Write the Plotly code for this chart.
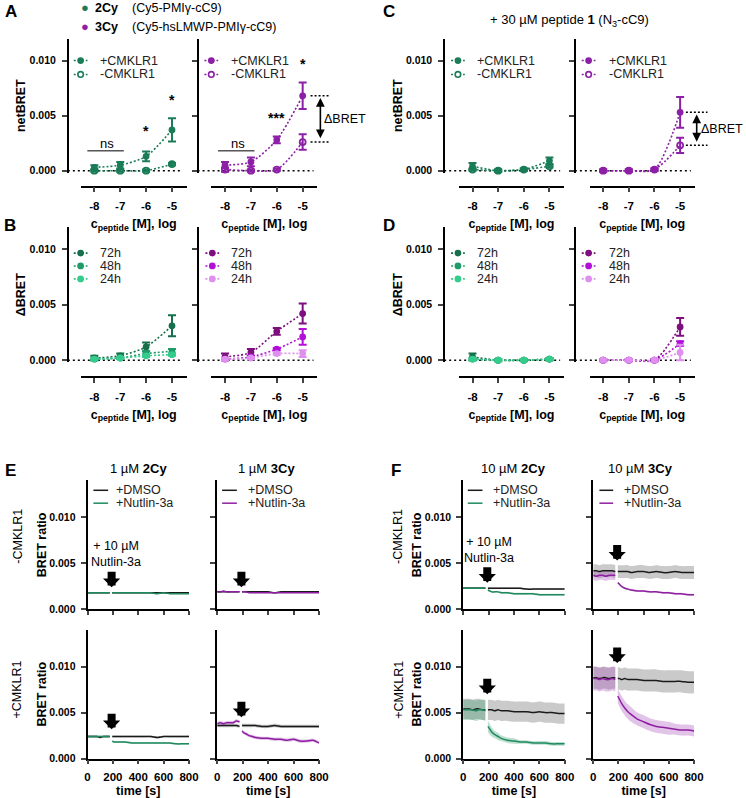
import plotly.graph_objects as go

W, H = 746, 798
def fx(p): return p / W
def fy(p): return 1 - p / H

FONT = "Arial, 'Liberation Sans', sans-serif"

# ---------------- data: dose response (A-D) ----------------
conc = [-8, -7, -6, -5]
conc_labels = ['-8', '-7', '-6', '-5']
bret_ticks = [0.0, 0.005, 0.010]
bret_labels = ['0.000', '0.005', '0.010']
time_ticks = [0, 200, 400, 600, 800]
time_labels = ['0', '200', '400', '600', '800']

a2_pos = [0.0003, 0.0005, 0.0013, 0.0037]
a2_pos_err = [0.0002, 0.0003, 0.00045, 0.00105]
a2_neg = [0.0000, 0.0000, 0.0000, 0.0006]
a2_neg_err = [0.0001, 0.0001, 0.0001, 0.0001]
a3_pos = [0.0005, 0.0008, 0.0028, 0.0068]
a3_pos_err = [0.0003, 0.0004, 0.0003, 0.0012]
a3_neg = [0.0001, 0.0000, 0.0001, 0.0026]
a3_neg_err = [0.0002, 0.0001, 0.0001, 0.0007]

b2_72 = [0.0002, 0.0004, 0.0012, 0.0031]
b2_72_err = [0.0002, 0.0002, 0.0004, 0.00095]
b2_48 = [0.0001, 0.0002, 0.0006, 0.0008]
b2_48_err = [0.0001, 0.0001, 0.0002, 0.0002]
b2_24 = [0.0001, 0.0002, 0.0004, 0.0005]
b2_24_err = [0.0001, 0.0001, 0.0001, 0.0001]
b3_72 = [0.0003, 0.0007, 0.0026, 0.0042]
b3_72_err = [0.0003, 0.0003, 0.0003, 0.0009]
b3_48 = [0.0001, 0.0003, 0.0010, 0.0021]
b3_48_err = [0.0001, 0.0001, 0.0001, 0.0007]
b3_24 = [0.0001, 0.0002, 0.0006, 0.0006]
b3_24_err = [0.0001, 0.0001, 0.0001, 0.0003]

c2_pos = [0.0004, 0.0000, 0.0001, 0.0009]
c2_pos_err = [0.0003, 0.0001, 0.0001, 0.0003]
c2_neg = [0.0001, 0.0000, 0.0001, 0.0004]
c2_neg_err = [0.0001, 0.0001, 0.0001, 0.0001]
c3_pos = [0.0000, 0.0000, 0.0001, 0.0053]
c3_pos_err = [0.0001, 0.0001, 0.0001, 0.0014]
c3_neg = [0.0000, 0.0000, 0.0001, 0.0023]
c3_neg_err = [0.0001, 0.0001, 0.0001, 0.0007]

d2_72 = [0.0003, 0.0000, 0.0000, 0.0001]
d2_72_err = [0.0003, 0.0001, 0.0001, 0.0001]
d2_48 = [0.0001, 0.0000, 0.0000, 0.0001]
d2_48_err = [0.0001, 0.0001, 0.0001, 0.0001]
d2_24 = [0.0001, 0.0000, 0.0000, 0.0001]
d2_24_err = [0.0001, 0.0001, 0.0001, 0.0001]
d3_72 = [0.0000, 0.0000, 0.0000, 0.0030]
d3_72_err = [0.0001, 0.0001, 0.0001, 0.0008]
d3_48 = [0.0000, 0.0000, 0.0000, 0.0015]
d3_48_err = [0.0001, 0.0001, 0.0001, 0.0002]
d3_24 = [0.0000, 0.0000, 0.0000, 0.0007]
d3_24_err = [0.0001, 0.0001, 0.0001, 0.0007]

# ---------------- data: time courses (E-F) ----------------
t_pre = [0, 25, 50, 75, 100, 125, 150, 175]
t_post = [195, 210, 225, 250, 275, 300, 350, 400, 450, 500, 550, 600, 650, 700, 750, 800]

# E, 1 uM 2Cy, -CMKLR1
e2m_dmso_pre = [0.0018, 0.0018, 0.0018, 0.0018, 0.0018, 0.0018, 0.0018, 0.0018]
e2m_dmso_post = [0.0018, 0.0018, 0.0018, 0.0018, 0.0018, 0.0018, 0.0018, 0.0018, 0.0018, 0.0018, 0.0018, 0.0018, 0.0018, 0.0018, 0.0018, 0.0018]
e2m_nut_pre = [0.0018, 0.0018, 0.0018, 0.0018, 0.0018, 0.0018, 0.0018, 0.0018]
e2m_nut_post = [0.0018, 0.0018, 0.0018, 0.0018, 0.0018, 0.0018, 0.0018, 0.0018, 0.0018, 0.0018, 0.0017, 0.0018, 0.0017, 0.0017, 0.0017, 0.0017]
e2m_sd = 0.00005
# E, 1 uM 3Cy, -CMKLR1
e3m_dmso_pre = [0.0019, 0.0019, 0.0019, 0.0019, 0.0019, 0.0019, 0.0019, 0.0019]
e3m_dmso_post = [0.0019, 0.0019, 0.0019, 0.0019, 0.0019, 0.0019, 0.0019, 0.0019, 0.0018, 0.0019, 0.0019, 0.0019, 0.0019, 0.0019, 0.0019, 0.0019]
e3m_nut_pre = [0.0019, 0.0019, 0.0020, 0.0019, 0.0019, 0.0019, 0.0019, 0.0019]
e3m_nut_post = [0.0019, 0.0019, 0.0019, 0.0018, 0.0018, 0.0018, 0.0018, 0.0018, 0.0018, 0.0018, 0.0018, 0.0018, 0.0018, 0.0018, 0.0018, 0.0018]
e3m_sd = 0.00005
# E, 1 uM 2Cy, +CMKLR1
e2p_dmso_pre = [0.0024, 0.0024, 0.0024, 0.0024, 0.0023, 0.0024, 0.0024, 0.0024]
e2p_dmso_post = [0.0024, 0.0024, 0.0024, 0.0024, 0.0024, 0.0024, 0.0024, 0.0024, 0.0024, 0.0024, 0.0023, 0.0024, 0.0024, 0.0024, 0.0024, 0.0024]
e2p_nut_pre = [0.0024, 0.0024, 0.0024, 0.0024, 0.0024, 0.0024, 0.0024, 0.0024]
e2p_nut_post = [0.0019, 0.0018, 0.0018, 0.0018, 0.0018, 0.0018, 0.0017, 0.0017, 0.0017, 0.0017, 0.0017, 0.0017, 0.0017, 0.0016, 0.0016, 0.0016]
e2p_sd = 0.0001
# E, 1 uM 3Cy, +CMKLR1
e3p_dmso_pre = [0.0036, 0.0036, 0.0036, 0.0036, 0.0036, 0.0036, 0.0036, 0.0035]
e3p_dmso_post = [0.0036, 0.0036, 0.0036, 0.0036, 0.0036, 0.0036, 0.0035, 0.0035, 0.0036, 0.0035, 0.0035, 0.0035, 0.0035, 0.0035, 0.0035, 0.0035]
e3p_nut_pre = [0.0038, 0.0039, 0.0038, 0.0039, 0.0039, 0.0039, 0.0041, 0.0040]
e3p_nut_post = [0.0030, 0.0028, 0.0027, 0.0025, 0.0024, 0.0023, 0.0022, 0.0022, 0.0021, 0.0021, 0.0020, 0.0021, 0.0019, 0.0019, 0.0020, 0.0017]
e3p_sd = 0.00018
# F, 10 uM 2Cy, -CMKLR1
f2m_dmso_pre = [0.0023, 0.0023, 0.0023, 0.0023, 0.0023, 0.0023, 0.0023, 0.0023]
f2m_dmso_post = [0.0023, 0.0023, 0.0023, 0.0023, 0.0023, 0.0023, 0.0023, 0.0023, 0.0023, 0.0022, 0.0022, 0.0022, 0.0022, 0.0022, 0.0022, 0.0022]
f2m_nut_pre = [0.0023, 0.0023, 0.0023, 0.0023, 0.0023, 0.0023, 0.0023, 0.0023]
f2m_nut_post = [0.0021, 0.0020, 0.0019, 0.0019, 0.0019, 0.0018, 0.0018, 0.0017, 0.0017, 0.0017, 0.0017, 0.0016, 0.0016, 0.0016, 0.0016, 0.0016]
f2m_sd = 0.0001
# F, 10 uM 3Cy, -CMKLR1
f3m_dmso_pre = [0.0042, 0.0042, 0.0041, 0.0042, 0.0042, 0.0042, 0.0042, 0.0041]
f3m_dmso_post = [0.0041, 0.0041, 0.0041, 0.0041, 0.0041, 0.0040, 0.0041, 0.0041, 0.0040, 0.0041, 0.0040, 0.0040, 0.0041, 0.0040, 0.0040, 0.0040]
f3m_nut_pre = [0.0037, 0.0036, 0.0037, 0.0037, 0.0036, 0.0037, 0.0037, 0.0037]
f3m_nut_post = [0.0029, 0.0027, 0.0025, 0.0023, 0.0022, 0.0021, 0.0020, 0.0020, 0.0019, 0.0019, 0.0018, 0.0018, 0.0017, 0.0017, 0.0016, 0.0016]
f3m_dmso_sd = 0.0007
f3m_nut_pre_sd = 0.0005
f3m_nut_post_sd = 0.0001
# F, 10 uM 2Cy, +CMKLR1
f2p_dmso_pre = [0.0054, 0.0054, 0.0054, 0.0053, 0.0054, 0.0054, 0.0053, 0.0053]
f2p_dmso_post = [0.0053, 0.0053, 0.0053, 0.0052, 0.0053, 0.0052, 0.0052, 0.0051, 0.0051, 0.0051, 0.0050, 0.0051, 0.0050, 0.0050, 0.0049, 0.0049]
f2p_nut_pre = [0.0053, 0.0053, 0.0053, 0.0053, 0.0052, 0.0053, 0.0053, 0.0052]
f2p_nut_post = [0.0035, 0.0032, 0.0029, 0.0026, 0.0024, 0.0022, 0.0020, 0.0019, 0.0018, 0.0018, 0.0017, 0.0017, 0.0017, 0.0016, 0.0016, 0.0016]
f2p_dmso_sd = 0.0011
f2p_nut_pre_sd = 0.0011
f2p_nut_post_sd = [0.0006, 0.0006, 0.0005, 0.0004, 0.0004, 0.0003, 0.0003, 0.0003, 0.0002, 0.0002, 0.0002, 0.0002, 0.0002, 0.0002, 0.0002, 0.0002]
# F, 10 uM 3Cy, +CMKLR1
f3p_dmso_pre = [0.0088, 0.0088, 0.0087, 0.0088, 0.0088, 0.0087, 0.0088, 0.0088]
f3p_dmso_post = [0.0087, 0.0087, 0.0086, 0.0087, 0.0086, 0.0086, 0.0086, 0.0085, 0.0085, 0.0085, 0.0084, 0.0084, 0.0084, 0.0084, 0.0083, 0.0083]
f3p_nut_pre = [0.0087, 0.0087, 0.0086, 0.0087, 0.0086, 0.0086, 0.0087, 0.0086]
f3p_nut_post = [0.0068, 0.0064, 0.0060, 0.0055, 0.0051, 0.0048, 0.0043, 0.0040, 0.0037, 0.0035, 0.0034, 0.0033, 0.0032, 0.0031, 0.0031, 0.0030]
f3p_dmso_sd = 0.0012
f3p_nut_pre_sd = 0.0013
f3p_nut_post_sd = [0.0008, 0.0008, 0.0008, 0.0008, 0.0008, 0.0008, 0.0007, 0.0007, 0.0007, 0.0007, 0.0007, 0.0007, 0.0006, 0.0006, 0.0006, 0.0006]

# ---------------- colours ----------------
GREEN = '#1a7d58'
PURPLE = '#8c20a6'
G72, G48, G24 = '#15704b', '#1e9c68', '#34cc8c'
P72, P48, P24 = '#7d0f7e', '#b20fd8', '#df90ef'
TS_GREEN = '#1f8a5e'
TS_PURPLE = '#8d1fa0'
BLACK_LINE = '#1a1a1a'
BAND_GREY = 'rgba(150,150,150,0.5)'
BAND_GREEN = 'rgba(40,150,100,0.3)'
BAND_PURPLE = 'rgba(165,70,185,0.32)'

fig = go.Figure()
layout = {}
shapes = []
annotations = []

def ids(n):
    return ('x' if n == 1 else f'x{n}'), ('y' if n == 1 else f'y{n}')

def keys(n):
    return ('xaxis' if n == 1 else f'xaxis{n}'), ('yaxis' if n == 1 else f'yaxis{n}')

tickfont = dict(family=FONT, size=10.5, color='black', weight='bold')
xtickfont = dict(family=FONT, size=11.5, color='black', weight='bold')
titlefont = dict(family=FONT, size=12.5, color='black', weight='bold')

# --- top subplots (dose response) ---
top_geo = {1: (66, 79, 187, 1), 2: (198, 212, 320, 1), 3: (449, 464, 571, 1), 4: (582, 597, 704, 1),
           5: (66, 79, 187, 2), 6: (198, 212, 320, 2), 7: (449, 464, 571, 2), 8: (582, 597, 704, 2)}
row_geo = {1: (38.8, 174.2, 188), 2: (228.6, 365.2, 380)}
top_titles = {1: 'netBRET', 3: 'netBRET', 5: 'ΔBRET', 7: 'ΔBRET'}

for n, (yx, xl, xr, row) in top_geo.items():
    ytop, ybot, xay = row_geo[row]
    kx, ky = keys(n)
    layout[kx] = dict(domain=[fx(xl), fx(xr)], anchor='free', position=fy(xay), range=[-8.53, -4.43],
                      tickvals=conc, ticktext=conc_labels, ticks='outside', ticklen=5, tickwidth=1.6,
                      showline=True, linewidth=1.8, linecolor='black', showgrid=False, zeroline=False,
                      tickfont=xtickfont, ticklabelstandoff=4,
                      title=dict(text='c<sub>peptide</sub> [M], log', font=titlefont, standoff=7))
    layout[ky] = dict(domain=[fy(ybot), fy(ytop)], anchor='free', position=fx(yx), range=[-0.0002, 0.012],
                      tickvals=bret_ticks, ticktext=bret_labels, ticks='outside', ticklen=5, tickwidth=1.6,
                      showline=True, linewidth=1.8, linecolor='black', showgrid=False, zeroline=False,
                      showticklabels=(n in top_titles), tickfont=tickfont, ticklabelstandoff=4)
    if n in top_titles:
        layout[ky]['title'] = dict(text=top_titles[n], font=titlefont, standoff=0)

def dose_trace(n, y, err, color, open_marker=False):
    xa, ya = ids(n)
    fig.add_trace(go.Scatter(
        x=conc, y=y, xaxis=xa, yaxis=ya, cliponaxis=False, showlegend=False,
        mode='lines+markers',
        line=dict(color=color, width=1.6, dash='2px,2px', shape='spline', smoothing=0.7),
        marker=dict(symbol='circle-open' if open_marker else 'circle', size=6 if open_marker else 5,
                    color=color, line=dict(width=1.8, color=color)),
        error_y=dict(type='data', array=err, color=color, thickness=2, width=4)))

dose_trace(1, a2_pos, a2_pos_err, GREEN)
dose_trace(1, a2_neg, a2_neg_err, GREEN, True)
dose_trace(2, a3_pos, a3_pos_err, PURPLE)
dose_trace(2, a3_neg, a3_neg_err, PURPLE, True)
dose_trace(3, c2_pos, c2_pos_err, GREEN)
dose_trace(3, c2_neg, c2_neg_err, GREEN, True)
dose_trace(4, c3_pos, c3_pos_err, PURPLE)
dose_trace(4, c3_neg, c3_neg_err, PURPLE, True)
dose_trace(5, b2_72, b2_72_err, G72)
dose_trace(5, b2_48, b2_48_err, G48)
dose_trace(5, b2_24, b2_24_err, G24)
dose_trace(6, b3_72, b3_72_err, P72)
dose_trace(6, b3_48, b3_48_err, P48)
dose_trace(6, b3_24, b3_24_err, P24)
dose_trace(7, d2_72, d2_72_err, G72)
dose_trace(7, d2_48, d2_48_err, G48)
dose_trace(7, d2_24, d2_24_err, G24)
dose_trace(8, d3_72, d3_72_err, P72)
dose_trace(8, d3_48, d3_48_err, P48)
dose_trace(8, d3_24, d3_24_err, P24)

# dotted zero lines
for n, (yx, xl, xr, row) in top_geo.items():
    xa, ya = ids(n)
    shapes.append(dict(type='line', xref=f'{xa} domain', yref=ya, x0=(yx - xl) / (xr - xl),
                       x1=(xr - 4 - xl) / (xr - xl), y0=0, y1=0,
                       line=dict(color='black', width=1.5, dash='2px,3px'), layer='below'))

# --- bottom subplots (time courses) ---
bot_geo = {9: (86, 189.3, 484, 614, False, True), 10: (218, 321.7, 484, 614, False, False),
           11: (86, 189.3, 634.7, 764.3, True, True), 12: (218, 321.7, 634.7, 764.3, True, False),
           13: (468.3, 571.7, 484, 614, False, True), 14: (600.7, 703.3, 484, 614, False, False),
           15: (468.3, 571.7, 634.7, 764.3, True, True), 16: (600.7, 703.3, 634.7, 764.3, True, False)}
for n, (xl, xr, ytop, ybot, showx, showy) in bot_geo.items():
    kx, ky = keys(n)
    xa, ya = ids(n)
    layout[kx] = dict(domain=[fx(xl), fx(xr)], anchor=ya, range=[0, 800], tickvals=time_ticks,
                      ticktext=time_labels, ticks='outside', ticklen=4, tickwidth=1.6,
                      showline=True, linewidth=1.8, linecolor='black', showgrid=False, zeroline=False,
                      showticklabels=showx, tickfont=xtickfont, ticklabelstandoff=3)
    if showx:
        layout[kx]['title'] = dict(text='time [s]', font=titlefont, standoff=4)
    layout[ky] = dict(domain=[fy(ybot), fy(ytop)], anchor=xa, range=[0, 0.014], tickvals=bret_ticks,
                      ticktext=bret_labels, ticks='outside', ticklen=5, tickwidth=1.6,
                      showline=True, linewidth=1.8, linecolor='black', showgrid=False, zeroline=False,
                      showticklabels=showy, tickfont=tickfont, ticklabelstandoff=3)
    if showy:
        layout[ky]['title'] = dict(text='BRET ratio', font=titlefont, standoff=0)

def as_list(sd, ref):
    return sd if isinstance(sd, list) else [sd for _ in ref]

def band(n, t, mean, sd, fillcolor):
    xa, ya = ids(n)
    sdl = as_list(sd, mean)
    lo = [m - s for m, s in zip(mean, sdl)]
    hi = [m + s for m, s in zip(mean, sdl)]
    fig.add_trace(go.Scatter(x=t, y=lo, xaxis=xa, yaxis=ya, mode='lines', line=dict(width=0, shape='spline'),
                             showlegend=False, hoverinfo='skip'))
    fig.add_trace(go.Scatter(x=t, y=hi, xaxis=xa, yaxis=ya, mode='lines', line=dict(width=0, shape='spline'),
                             fill='tonexty', fillcolor=fillcolor, showlegend=False, hoverinfo='skip'))

def line(n, t, mean, color):
    xa, ya = ids(n)
    fig.add_trace(go.Scatter(x=t, y=mean, xaxis=xa, yaxis=ya, mode='lines', showlegend=False,
                             line=dict(color=color, width=1.5, shape='spline', smoothing=0.6)))

panels = [
    (9, e2m_dmso_pre, e2m_dmso_post, e2m_sd, e2m_sd, e2m_nut_pre, e2m_nut_post, e2m_sd, e2m_sd, TS_GREEN, BAND_GREEN),
    (10, e3m_dmso_pre, e3m_dmso_post, e3m_sd, e3m_sd, e3m_nut_pre, e3m_nut_post, e3m_sd, e3m_sd, TS_PURPLE, BAND_PURPLE),
    (11, e2p_dmso_pre, e2p_dmso_post, e2p_sd, e2p_sd, e2p_nut_pre, e2p_nut_post, e2p_sd, e2p_sd, TS_GREEN, BAND_GREEN),
    (12, e3p_dmso_pre, e3p_dmso_post, e3p_sd, e3p_sd, e3p_nut_pre, e3p_nut_post, e3p_sd, e3p_sd, TS_PURPLE, BAND_PURPLE),
    (13, f2m_dmso_pre, f2m_dmso_post, f2m_sd, f2m_sd, f2m_nut_pre, f2m_nut_post, f2m_sd, f2m_sd, TS_GREEN, BAND_GREEN),
    (14, f3m_dmso_pre, f3m_dmso_post, f3m_dmso_sd, f3m_dmso_sd, f3m_nut_pre, f3m_nut_post, f3m_nut_pre_sd, f3m_nut_post_sd, TS_PURPLE, BAND_PURPLE),
    (15, f2p_dmso_pre, f2p_dmso_post, f2p_dmso_sd, f2p_dmso_sd, f2p_nut_pre, f2p_nut_post, f2p_nut_pre_sd, f2p_nut_post_sd, TS_GREEN, BAND_GREEN),
    (16, f3p_dmso_pre, f3p_dmso_post, f3p_dmso_sd, f3p_dmso_sd, f3p_nut_pre, f3p_nut_post, f3p_nut_pre_sd, f3p_nut_post_sd, TS_PURPLE, BAND_PURPLE),
]
for (n, dpre, dpost, dsd_pre, dsd_post, npre, npost, nsd_pre, nsd_post, col, bcol) in panels:
    band(n, t_pre, dpre, dsd_pre, BAND_GREY)
    band(n, t_post, dpost, dsd_post, BAND_GREY)
    band(n, t_pre, npre, nsd_pre, bcol)
    band(n, t_post, npost, nsd_post, bcol)
    line(n, t_pre, dpre, BLACK_LINE)
    line(n, t_pre, npre, col)
    line(n, t_post, dpost, BLACK_LINE)
    line(n, t_post, npost, col)

# ---------------- text helper ----------------
def txt(x, y, text, size=12, bold=False, xanchor='center', yanchor='middle', color='black', xref='paper', yref='paper', angle=0):
    annotations.append(dict(x=x, y=y, xref=xref, yref=yref, text=text, showarrow=False, xanchor=xanchor,
                            yanchor=yanchor, textangle=angle,
                            font=dict(family=FONT, size=size, color=color, weight='bold' if bold else 'normal')))

# ---------------- legends (key glyph + text) ----------------
def key(x0, x1, y, tx, label, color, dotted=True, marker=None):
    shapes.append(dict(type='line', xref='paper', yref='paper', x0=fx(x0), x1=fx(x1), y0=fy(y), y1=fy(y),
                       line=dict(color=color, width=1.6 if dotted else 1.5, dash='2px,2px' if dotted else 'solid')))
    if marker:
        xm = (x0 + x1) / 2
        r = 2.6 if marker == 'filled' else 2.8
        shapes.append(dict(type='circle', xref='paper', yref='paper', x0=fx(xm - r), x1=fx(xm + r),
                           y0=fy(y + r), y1=fy(y - r), fillcolor=color if marker == 'filled' else 'white',
                           line=dict(color=color, width=1.6)))
    txt(fx(tx), fy(y), label, size=12.5, xanchor='left', color='#222')

for (x0, x1, tx, col) in ((72, 86, 97, GREEN), (205, 219, 230, PURPLE), (456, 470, 480, GREEN), (589, 603, 615, PURPLE)):
    key(x0, x1, 61, tx, '+CMKLR1', col, marker='filled')
    key(x0, x1, 75, tx, '-CMKLR1', col, marker='open')
for (x0, x1, tx, cols) in ((72, 86, 97, (G72, G48, G24)), (206, 220, 230, (P72, P48, P24)),
                           (456, 470, 480, (G72, G48, G24)), (589, 603, 615, (P72, P48, P24))):
    for yy, lab, c in zip((255, 268, 281), ('72h', '48h', '24h'), cols):
        key(x0, x1, yy, tx, lab, c, marker='filled')
for (x0, x1, tx, col) in ((92, 107, 113, TS_GREEN), (223, 238, 247, TS_PURPLE), (473, 488, 497, TS_GREEN), (607, 621, 630, TS_PURPLE)):
    key(x0, x1, 494, tx, '+DMSO', BLACK_LINE, dotted=False)
    key(x0, x1, 507, tx, '+Nutlin-3a', col, dotted=False)

# ---------------- annotations ----------------
for letter, (px, py) in {'A': (8, 12), 'B': (7, 227), 'C': (393, 12), 'D': (393, 227), 'E': (8, 474), 'F': (400, 474)}.items():
    txt(fx(px), fy(py), letter, size=17, bold=True)

# header legend
txt(fx(83), fy(8), f'<span style="color:{GREEN}">●</span>', size=13)
txt(fx(92), fy(8), '<b>2Cy</b>', size=12.5, xanchor='left')
txt(fx(129), fy(8), '(Cy5-PMIγ-cC9)', size=12.5, xanchor='left')
txt(fx(83), fy(27), f'<span style="color:{PURPLE}">●</span>', size=13)
txt(fx(92), fy(27), '<b>3Cy</b>', size=12.5, xanchor='left')
txt(fx(129), fy(27), '(Cy5-hsLMWP-PMIγ-cC9)', size=12.5, xanchor='left')
txt(fx(577), fy(21), '+ 30 µM peptide <b>1</b> (N<sub>3</sub>-cC9)', size=13)

# significance marks
txt(-7.5, 0.0025, 'ns', size=13, xref='x', yref='y')
txt(-7.5, 0.0025, 'ns', size=13, xref='x2', yref='y2')
for xa_, ya_ in (('x', 'y'), ('x2', 'y2')):
    shapes.append(dict(type='line', xref=xa_, yref=ya_, x0=-8.27, x1=-6.86, y0=0.0018, y1=0.0018,
                       line=dict(color='black', width=1)))
txt(-6, 0.0036, '*', size=14, bold=True, xref='x', yref='y')
txt(-5, 0.0064, '*', size=14, bold=True, xref='x', yref='y')
txt(-6, 0.0048, '***', size=14, bold=True, xref='x2', yref='y2')
txt(-5, 0.0097, '*', size=14, bold=True, xref='x2', yref='y2')

# delta BRET markers
def delta(ya, hi, lo, xl, xr, xarrow):
    for v in (hi, lo):
        shapes.append(dict(type='line', xref='paper', yref=ya, x0=fx(xl), x1=fx(xr), y0=v, y1=v,
                           line=dict(color='black', width=1.5, dash='2px,2px')))
    annotations.append(dict(x=fx(xarrow), y=hi - 0.0002, xref='paper', yref=ya, ax=0, ay=lo + 0.0002,
                            axref='pixel', ayref=ya, text='', showarrow=True, arrowhead=2, arrowside='end+start',
                            arrowsize=1.1, arrowwidth=1.6, arrowcolor='black'))
    txt(fx(xarrow + 2), (hi + lo) / 2, 'ΔBRET', size=12.5, xanchor='left', yref=ya)

delta('y2', a3_pos[-1], a3_neg[-1], 313, 333, 323)
delta('y4', c3_pos[-1], c3_neg[-1], 695, 717, 706)

# subplot titles
txt(fx(138), fy(472), '1 µM <b>2Cy</b>', size=13)
txt(fx(268), fy(472), '1 µM <b>3Cy</b>', size=13)
txt(fx(520), fy(472), '10 µM <b>2Cy</b>', size=13)
txt(fx(649), fy(472), '10 µM <b>3Cy</b>', size=13)

# row labels
txt(fx(15), fy(540), '-CMKLR1', size=12.5, angle=-90)
txt(fx(14), fy(695), '+CMKLR1', size=12.5, angle=-90)
txt(fx(402), fy(540), '-CMKLR1', size=12.5, angle=-90)
txt(fx(403), fy(695), '+CMKLR1', size=12.5, angle=-90)

# injection arrows
arrow_tips = {9: 0.0024, 10: 0.0024, 11: 0.0032, 12: 0.0045, 13: 0.0029, 14: 0.0053, 15: 0.0070, 16: 0.0104}
for n, yv in arrow_tips.items():
    xa, ya = ids(n)
    annotations.append(dict(x=190, y=yv, xref=xa, yref=ya, ax=0, ay=-17, text='', showarrow=True,
                            arrowhead=1, arrowsize=0.36, arrowwidth=8, arrowcolor='black'))
txt(225, 0.0060, '+ 10 µM<br>Nutlin-3a', size=12.5, xref='x9', yref='y9')
txt(200, 0.0064, '+ 10 µM<br>Nutlin-3a', size=12.5, xref='x13', yref='y13')

layout.update(dict(width=W, height=H, margin=dict(l=0, r=0, t=0, b=0), plot_bgcolor='white',
                   paper_bgcolor='white', font=dict(family=FONT, color='black'), shapes=shapes,
                   annotations=annotations, hovermode=False, showlegend=False))
fig.update_layout(**layout)
fig.write_html('out.html')
